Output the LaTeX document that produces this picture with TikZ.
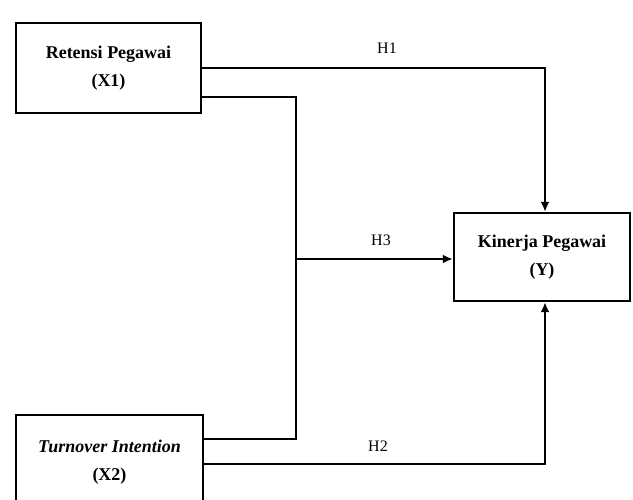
\documentclass[tikz,border=0pt]{standalone}
\usepackage{fontspec}
\setmainfont{Liberation Serif}
\usetikzlibrary{arrows.meta, calc}
\tikzset{varbox/.style = {draw, line width=2.4pt, align=center, font=\fontsize{18}{28}\selectfont\bfseries, inner sep=0pt},
  link/.style = {line width=2.4pt},
  hlabel/.style = {font=\fontsize{16}{18}\selectfont}}

\begin{document}
\begin{tikzpicture}[x=1pt, y=-1pt, >={Latex[length=10pt, width=9pt]}]
\useasboundingbox (0,0) rectangle (633,499);
\node[varbox, minimum width=185pt, minimum height=90pt] (X1) at (108.5,68) {Retensi Pegawai\\(X1)};
\node[varbox, minimum width=187pt, minimum height=94pt] (X2) at (109.5,462) {\itshape Turnover Intention\\(X2)};
\node[varbox, minimum width=176pt, minimum height=88pt] (Y) at (542,257) {Kinerja Pegawai\\(Y)};
\coordinate (top) at (545,68);
\coordinate (bot) at (545,464);
\coordinate (jn) at (296,259);
% H1
\draw[link, ->] (X1.east |- top) -- (top) -- (Y.north -| top);
% H3
\draw[link] (X1.east |- 0,97) -| (jn) |- (X2.east |- 0,439);
\draw[link, ->] (jn) -- (Y.west |- jn);
% H2
\draw[link, ->] (X2.east |- bot) -- (bot) -- (Y.south -| bot);
\node[hlabel] (h1) at (387,48) {H1};
\node[hlabel] (h3) at (381,240) {H3};
\node[hlabel] (h2) at (378,446) {H2};
\end{tikzpicture}
\end{document}
